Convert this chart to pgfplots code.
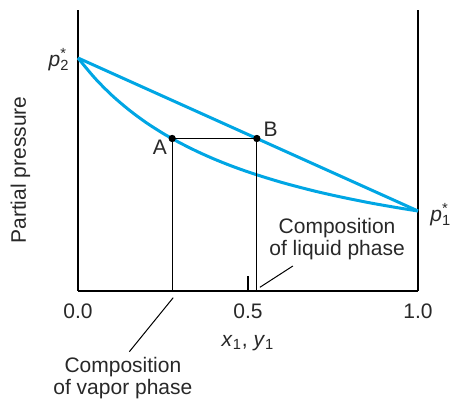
\documentclass[border=0pt]{standalone}
\usepackage{pgfplots}
\pgfplotsset{compat=1.18}
\usepackage{fontspec}
\setmainfont{Liberation Sans}
\definecolor{curveblue}{RGB}{0,166,228}
\definecolor{txt}{RGB}{40,40,40}
\begin{document}
\begin{tikzpicture}[font=\fontsize{10.5}{12}\selectfont\color{txt}]
\begin{axis}[
  at={(0,0)}, anchor=south west,
  scale only axis, width=170pt, height=140.5pt,
  xmin=0, xmax=1, ymin=0, ymax=281,
  axis x line*=bottom, axis y line*=box,
  axis line style={line width=1.3pt, black},
  xtick={0,0.5,1}, xticklabels={0.0,0.5,1.0},
  ytick=\empty,
  tick align=inside, major tick length=7.5pt,
  every tick/.style={black, line width=0.6pt},
  xticklabel style={anchor=base, yshift=-13.85pt, text=txt},
  clip=false,
]
% ideal (liquid) line
\addplot[curveblue, line width=1.5pt] coordinates {(0,233) (1,80)};
% vapour curve
\addplot[curveblue, line width=1.5pt, smooth] coordinates {
(0,233) (0.05,212.7) (0.1,195.6) (0.15,181.1) (0.2,168.5) (0.25,157.6)
(0.277,152.5) (0.3,148.1) (0.35,139.6) (0.4,132.0) (0.45,125.2) (0.5,119.1)
(0.55,113.6) (0.6,108.5) (0.65,103.9) (0.7,99.6) (0.75,95.7) (0.8,92.1)
(0.85,88.7) (0.9,85.6) (0.95,82.7) (1,80)};
% tie lines
\addplot[black, line width=0.6pt] coordinates {(0.277,0) (0.277,152.5) (0.526,152.5) (0.526,0)};
\addplot[black, only marks, mark=*, mark size=1.6pt] coordinates {(0.277,152.5) (0.526,152.5)};
% labels
\node[anchor=north east, inner sep=0pt, xshift=-2.5pt, yshift=-0.5pt] at (axis cs:0.277,152.5) {A};
\node[anchor=south west, inner sep=0pt, xshift=3.2pt, yshift=0.8pt] at (axis cs:0.526,152.5) {B};
\node[anchor=east, inner sep=0pt, xshift=-4pt, yshift=-1pt] at (axis cs:0,233) {\textit{p}\rlap{\textsuperscript{*}}\textsubscript{2}};
\node[anchor=west, inner sep=0pt, xshift=6pt, yshift=-2pt] at (axis cs:1,80) {\textit{p}\rlap{\textsuperscript{*}}\textsubscript{1}};
\node[anchor=base, rotate=90] at (axis cs:-0.153,121) {Partial pressure};
\node[anchor=base] at (axis cs:0.5,-55.7) {\textit{x}\textsubscript{1}, \textit{y}\textsubscript{1}};
% annotations
\node[anchor=base] at (axis cs:0.762,57.7) {Composition};
\node[anchor=base] at (axis cs:0.762,35) {of liquid phase};
\draw[black, line width=0.5pt] (axis cs:0.632,25) -- (axis cs:0.535,3.7);
\node[anchor=base] at (axis cs:0.132,-81.7) {Composition};
\node[anchor=base] at (axis cs:0.132,-103.5) {of vapor phase};
\draw[black, line width=0.5pt] (axis cs:0.280,-6.7) -- (axis cs:0.151,-60.7);
\end{axis}
\path[use as bounding box] (-39pt,-54.5pt) rectangle (188pt,145.5pt);
\end{tikzpicture}
\end{document}
